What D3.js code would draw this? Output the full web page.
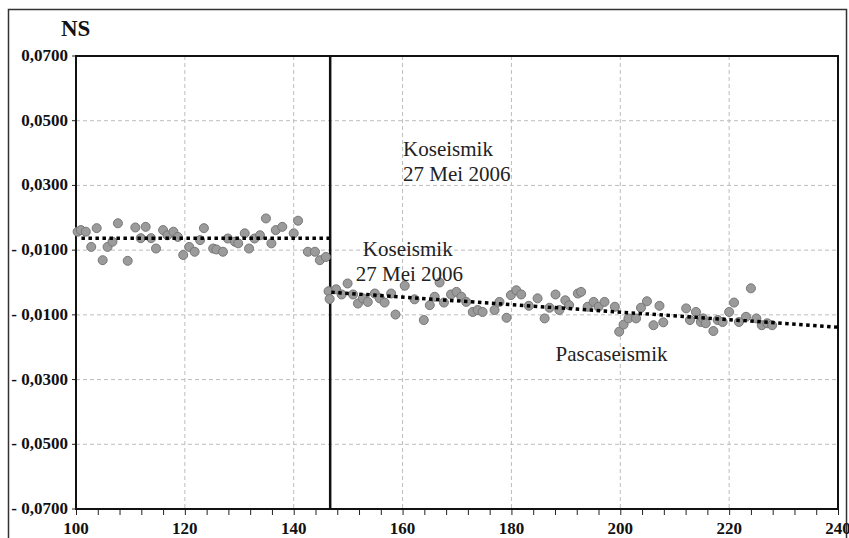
<!DOCTYPE html>
<html>
<head>
<meta charset="utf-8">
<script src="https://cdn.jsdelivr.net/npm/d3@7"></script>
<style>
  body { margin: 0; background: #fff; }
  svg { display: block; }
  text { font-family: "Liberation Serif", "DejaVu Serif", serif; }
</style>
</head>
<body>
<div id="chart"></div>
<script>
// Day number vs NS displacement
const preDays = [100.3, 100.9, 101.8, 102.8, 103.8, 104.9, 105.8, 106.7, 107.7, 109.5,
  110.9, 111.9, 112.8, 113.8, 114.7, 116.0, 116.8, 117.9, 118.7, 119.7,
  120.8, 121.8, 122.8, 123.5, 125.2, 125.8, 127.0, 127.9, 129.2, 129.8,
  131.0, 131.8, 132.8, 133.8, 134.9, 135.9, 136.7, 137.9, 140.0, 140.8,
  142.6, 143.9, 144.8, 145.9]
const preNS = [0.0157, 0.0162, 0.0157, 0.0110, 0.0168, 0.0069, 0.0110, 0.0126, 0.0183, 0.0067,
  0.0170, 0.0137, 0.0172, 0.0137, 0.0105, 0.0162, 0.0146, 0.0157, 0.0141, 0.0085,
  0.0110, 0.0095, 0.0131, 0.0168, 0.0105, 0.0102, 0.0095, 0.0136, 0.0126, 0.0121,
  0.0152, 0.0105, 0.0136, 0.0146, 0.0198, 0.0121, 0.0162, 0.0172, 0.0152, 0.0191,
  0.0095, 0.0095, 0.0069, 0.0079]

const postDays = [146.4, 146.6, 147.8, 148.8, 149.9, 150.9, 151.8, 152.7, 153.6, 154.9,
  155.8, 156.7, 157.9, 158.7, 160.4, 162.2, 163.9, 165.0, 165.9, 166.8,
  167.6, 168.9, 169.9, 170.8, 171.7, 172.9, 173.8, 174.7, 176.9, 177.8,
  179.1, 179.9, 180.9, 181.8, 183.2, 184.8, 186.1, 187.0, 188.1, 188.8,
  189.9, 190.6, 192.2, 192.8, 194.0, 195.1, 196.0, 197.1, 199.0, 199.8,
  200.6, 201.5, 202.9, 203.8, 204.9, 206.1, 207.2, 207.9, 212.1, 212.8,
  213.9, 214.8, 215.2, 215.7, 217.1, 217.9, 218.8, 220.0, 220.9, 221.8,
  223.1, 224.0, 225.0, 226.0, 227.0, 227.9]
const postNS = [-0.0027, -0.0051, -0.0021, -0.0037, -0.0003, -0.0037, -0.0065, -0.0049, -0.0060, -0.0034,
  -0.0049, -0.0062, -0.0034, -0.0099, -0.0010, -0.0052, -0.0116, -0.0070, -0.0044, 0.0000,
  -0.0062, -0.0037, -0.0029, -0.0044, -0.0060, -0.0091, -0.0085, -0.0091, -0.0085, -0.0060,
  -0.0109, -0.0039, -0.0024, -0.0037, -0.0072, -0.0049, -0.0111, -0.0078, -0.0037, -0.0085,
  -0.0055, -0.0070, -0.0034, -0.0029, -0.0075, -0.0060, -0.0075, -0.0060, -0.0075, -0.0152,
  -0.0130, -0.0111, -0.0111, -0.0078, -0.0058, -0.0132, -0.0072, -0.0123, -0.0080, -0.0116,
  -0.0091, -0.0122, -0.0111, -0.0126, -0.0150, -0.0116, -0.0122, -0.0091, -0.0062, -0.0122,
  -0.0106, -0.0018, -0.0111, -0.0132, -0.0126, -0.0132]

// Trend lines [x, y] end points
const preTrend = [[101, 0.0137], [146.6, 0.0137]]
const postTrend = [[146.9, -0.0030], [240, -0.0138]]

const quakeDay = 146.7

const yTicks = [0.07, 0.05, 0.03, 0.01, -0.01, -0.03, -0.05, -0.07]
const yTickLabels = ['0,0700', '0,0500', '0,0300', '- 0,0100', '- 0,0100', '- 0,0300', '- 0,0500', '- 0,0700']
const xTicks = [100, 120, 140, 160, 180, 200, 220, 240]

const notes = [
    { text: 'Koseismik', x: 160.1, y: 0.0390 },
    { text: '27 Mei 2006', x: 160.1, y: 0.0313 },
    { text: 'Koseismik', x: 152.7, y: 0.0081 },
    { text: '27 Mei 2006', x: 151.4, y: 0.0005 },
    { text: 'Pascaseismik', x: 188.1, y: -0.0242 }
]

const width = 849
const height = 538
const margin = { left: 76, right: 11, top: 56, bottom: 29 }

const svg = d3.select('#chart')
    .append('svg')
    .attr('width', width)
    .attr('height', height)

const xscale = d3.scaleLinear()
    .domain([100, 240])
    .range([margin.left, width - margin.right])
const yscale = d3.scaleLinear()
    .domain([-0.07, 0.07])
    .range([height - margin.bottom, margin.top])

// Outer frame
svg.append('rect')
    .attr('x', 8.5)
    .attr('y', 9.5)
    .attr('width', 838)
    .attr('height', 540)
    .style('fill', 'none')
    .style('stroke', '#333')
    .style('stroke-width', 1.5)

// Grid
svg.append('g')
    .selectAll('line')
    .data(yTicks.slice(1, -1))
    .enter()
    .append('line')
    .attr('x1', xscale(100))
    .attr('x2', xscale(240))
    .attr('y1', d => yscale(d))
    .attr('y2', d => yscale(d))
    .style('stroke', '#bdbdbd')
    .style('stroke-dasharray', '4,3')

svg.append('g')
    .selectAll('line')
    .data(xTicks.slice(1, -1))
    .enter()
    .append('line')
    .attr('x1', d => xscale(d))
    .attr('x2', d => xscale(d))
    .attr('y1', yscale(0.07))
    .attr('y2', yscale(-0.07))
    .style('stroke', '#bdbdbd')
    .style('stroke-dasharray', '4,3')

// Axes
const xAxis = svg.append('g')
    .attr('transform', `translate(0,${yscale(-0.07)})`)
    .call(d3.axisBottom(xscale).tickValues(d3.range(100, 241, 4)).tickSize(6).tickFormat(''))
xAxis.select('.domain').remove()
xAxis.selectAll('line').style('stroke', '#222')

svg.append('g')
    .selectAll('text')
    .data(xTicks)
    .enter()
    .append('text')
    .attr('x', d => xscale(d))
    .attr('y', 534)
    .text(d => d)
    .style('text-anchor', 'middle')
    .style('font-weight', 'bold')
    .style('font-size', '17px')
    .style('fill', '#111')

svg.append('g')
    .selectAll('text')
    .data(yTicks)
    .enter()
    .append('text')
    .attr('x', 68)
    .attr('y', d => yscale(d) + 5)
    .text((d, i) => yTickLabels[i])
    .style('text-anchor', 'end')
    .style('font-weight', 'bold')
    .style('font-size', '17px')
    .style('fill', '#111')

svg.append('g')
    .selectAll('line')
    .data(yTicks)
    .enter()
    .append('line')
    .attr('x1', xscale(100) - 4)
    .attr('x2', xscale(100))
    .attr('y1', d => yscale(d))
    .attr('y2', d => yscale(d))
    .style('stroke', '#222')

// Plot frame
svg.append('rect')
    .attr('x', xscale(100))
    .attr('y', yscale(0.07))
    .attr('width', xscale(240) - xscale(100))
    .attr('height', yscale(-0.07) - yscale(0.07))
    .style('fill', 'none')
    .style('stroke', '#111')
    .style('stroke-width', 2)

svg.append('text')
    .attr('x', 61)
    .attr('y', 36)
    .text('NS')
    .style('font-weight', 'bold')
    .style('font-size', '23px')
    .style('fill', '#111')

// Earthquake line
svg.append('line')
    .attr('x1', xscale(quakeDay))
    .attr('x2', xscale(quakeDay))
    .attr('y1', yscale(0.07))
    .attr('y2', yscale(-0.07))
    .style('stroke', '#111')
    .style('stroke-width', 2.5)

// Points
const points = preDays.map((d, i) => [d, preNS[i]])
    .concat(postDays.map((d, i) => [d, postNS[i]]))

svg.append('g')
    .selectAll('circle')
    .data(points)
    .enter()
    .append('circle')
    .attr('cx', d => xscale(d[0]))
    .attr('cy', d => yscale(d[1]))
    .attr('r', 4.5)
    .style('fill', '#9b9b9b')
    .style('stroke', '#777')
    .style('stroke-width', 1)

// Trend lines
const line = d3.line()
    .x(d => xscale(d[0]))
    .y(d => yscale(d[1]))

svg.selectAll('.trend')
    .data([preTrend, postTrend])
    .enter()
    .append('path')
    .attr('class', 'trend')
    .attr('d', line)
    .style('fill', 'none')
    .style('stroke', '#000')
    .style('stroke-width', 3.5)
    .style('stroke-dasharray', '3.5,3.5')

// Annotations
svg.append('g')
    .selectAll('text')
    .data(notes)
    .enter()
    .append('text')
    .attr('x', d => xscale(d.x))
    .attr('y', d => yscale(d.y))
    .text(d => d.text)
    .style('font-size', '21px')
    .style('fill', '#222')
</script>
</body>
</html>
